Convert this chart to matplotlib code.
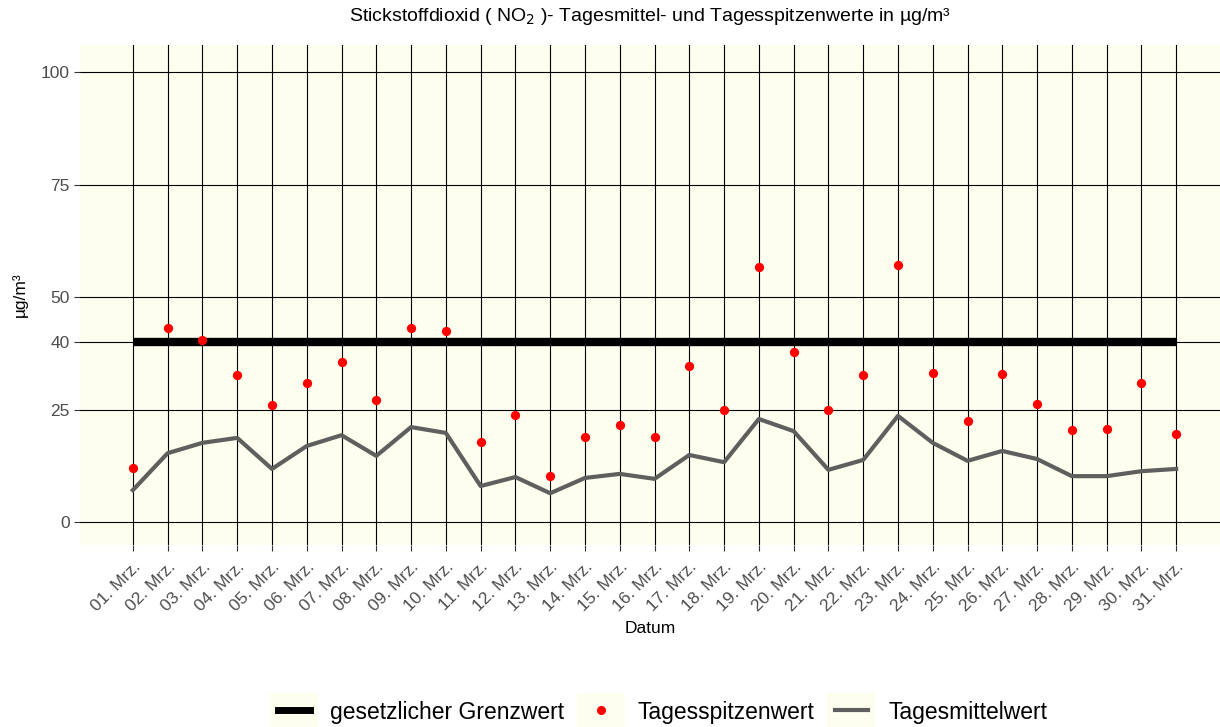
import numpy as np
import matplotlib
matplotlib.use("Agg")
import matplotlib.pyplot as plt
from matplotlib.lines import Line2D
from matplotlib.patches import Rectangle

plt.rcParams["font.family"] = ["Liberation Sans", "DejaVu Sans"]

days = np.arange(1, 32)
labels = [f"{d:02d}. Mrz." for d in days]

peak = [12.0, 43.1, 40.4, 32.7, 26.0, 30.9, 35.6, 27.1, 43.1, 42.4,
        17.8, 23.8, 10.2, 18.9, 21.6, 18.9, 34.7, 24.9, 56.7, 37.8,
        24.9, 32.7, 57.1, 33.1, 22.4, 32.9, 26.2, 20.4, 20.7, 30.9, 19.6]
mean = [7.1, 15.3, 17.6, 18.7, 11.8, 16.9, 19.3, 14.7, 21.1, 19.8,
        8.0, 10.0, 6.4, 9.8, 10.7, 9.6, 14.9, 13.3, 22.9, 20.2,
        11.6, 13.8, 23.6, 17.6, 13.6, 15.8, 14.0, 10.2, 10.2, 11.3, 11.8]
limit = 40
yticks = [0, 25, 40, 50, 75, 100]

bg = "#fefeee"

fig = plt.figure(figsize=(12.2, 7.27), dpi=100)
ax = fig.add_axes([80 / 1220, 1 - 545 / 727, 1140 / 1220, 500 / 727])
ax.set_facecolor(bg)
for s in ax.spines.values():
    s.set_visible(False)

ax.set_xlim(-0.52, 32.26)
ax.set_ylim(-5.1, 106)

for d in days:
    ax.axvline(d, color="black", lw=0.8, zorder=1)
for y in yticks:
    ax.axhline(y, color="black", lw=0.8, zorder=1)

ax.plot([days[0], days[-1]], [limit, limit], color="black", lw=6, solid_capstyle="butt", zorder=3)
ax.plot(days, mean, color="#5f5f5f", lw=3, zorder=3)
ax.scatter(days, peak, color="red", s=32, zorder=4)

ax.set_xticks(days)
ax.set_xticklabels(labels, rotation=45, ha="right", rotation_mode="anchor", fontsize=12.5, color="#4d4d4d")
ax.set_yticks(yticks)
ax.set_yticklabels([str(y) for y in yticks], fontsize=12.5, color="#4d4d4d")
ax.tick_params(axis="both", length=4, color="#333333", width=0.8)
ax.tick_params(axis="x", pad=6)

ax.set_xlabel("Datum", fontsize=12.5, labelpad=5)
ax.set_ylabel("µg/m³", fontsize=12.5, labelpad=9)
ax.set_title("Stickstoffdioxid ( NO$_2$ )- Tagesmittel- und Tagesspitzenwerte in µg/m³",
             fontsize=14, pad=17)

handles = [
    Line2D([], [], color="black", lw=5),
    Line2D([], [], color="red", marker="o", ls="", markersize=5.5),
    Line2D([], [], color="#5f5f5f", lw=3),
]
leg = fig.legend(handles, ["gesetzlicher Grenzwert", "Tagesspitzenwert", "Tagesmittelwert"],
                 loc="center", bbox_to_anchor=(0.543, 1 - 712 / 727), ncol=3, frameon=False,
                 fontsize=16.5, handlelength=1.4, columnspacing=0.9, handletextpad=0.9)

# light key backgrounds like ggplot legend keys
fig.canvas.draw()
inv = fig.transFigure.inverted()
for h in leg.legend_handles:
    bb = h.get_window_extent(fig.canvas.get_renderer())
    cx = (bb.x0 + bb.x1) / 2
    cy = (bb.y0 + bb.y1) / 2
    (x0, y0) = inv.transform((cx - 24, cy - 17))
    (x1, y1) = inv.transform((cx + 24, cy + 17))
    fig.patches.append(Rectangle((x0, y0), x1 - x0, y1 - y0, transform=fig.transFigure,
                                 facecolor=bg, edgecolor="none", zorder=0))

fig.savefig("out.png", dpi=100)
